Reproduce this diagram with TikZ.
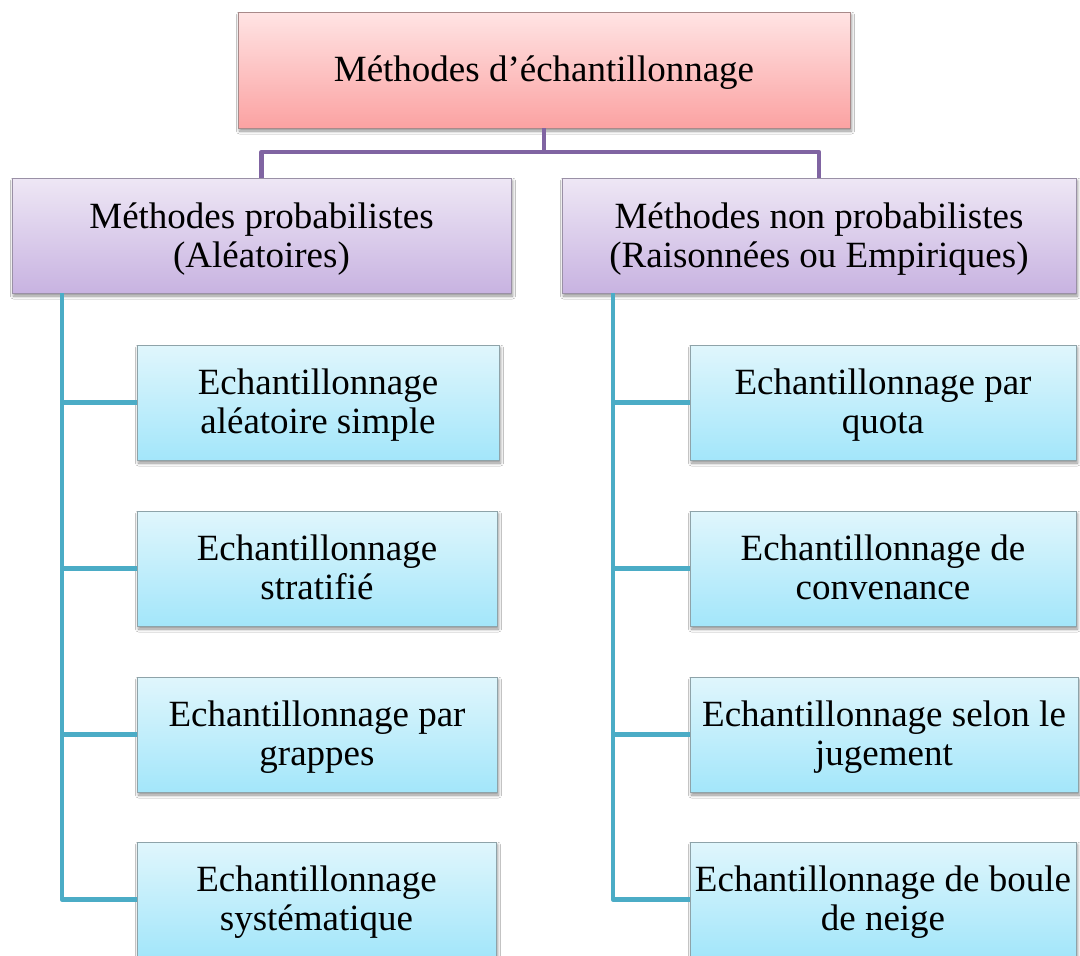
\documentclass[tikz,border=0pt]{standalone}
\usepackage{fontspec}
\setmainfont{Liberation Serif}
\usetikzlibrary{shadows.blur}
\definecolor{pinkTop}{HTML}{FFE4E4}
\definecolor{pinkBot}{HTML}{FBA2A2}
\definecolor{pinkLine}{HTML}{A88A8A}
\definecolor{lavTop}{HTML}{EEE7F5}
\definecolor{lavBot}{HTML}{C8B3E1}
\definecolor{lavLine}{HTML}{9A90A6}
\definecolor{cyanTop}{HTML}{E0F6FC}
\definecolor{cyanBot}{HTML}{A3E6FA}
\definecolor{cyanLine}{HTML}{8EA3A9}
\definecolor{purpleLink}{HTML}{8064A2}
\definecolor{tealLink}{HTML}{4BACC6}
% two centred lines with a fixed first-line height and last-line depth
\newcommand\twolines[3]{\rule{0pt}{#1}#2\\#3\rule[-10pt]{0pt}{0pt}}
\tikzset{
  box/.style={rectangle, inner sep=0pt, align=center, line width=0.8pt,
    font=\fontsize{37}{39}\selectfont,
    blur shadow={shadow xshift=1.5pt, shadow yshift=-3pt, shadow blur steps=6,
      shadow blur radius=3pt, shadow opacity=45}},
  rootbox/.style={box, draw=pinkLine, top color=pinkTop, bottom color=pinkBot},
  groupbox/.style={box, draw=lavLine, top color=lavTop, bottom color=lavBot},
  leafbox/.style={box, draw=cyanLine, top color=cyanTop, bottom color=cyanBot},
  purplelink/.style={draw=purpleLink, line width=4.5pt, line join=round},
  teallink/.style={draw=tealLink, line width=4.5pt, line join=round},
}
\begin{document}
\begin{tikzpicture}[x=1pt, y=-1pt]
  \clip (0,0) rectangle (1080,956);
  \fill[white] (0,0) rectangle (1080,956);

  % root
  \node[rootbox, minimum width=612pt, minimum height=116pt] (root) at (544,70)
    {\rule{0pt}{32pt}Méthodes d’échantillonnage\rule[-10pt]{0pt}{0pt}};

  % two families
  \node[groupbox, minimum width=499pt, minimum height=115pt] (prob) at (261.5,235.5)
    {\twolines{34pt}{Méthodes probabilistes}{(Aléatoires)}};
  \node[groupbox, minimum width=514pt, minimum height=115pt] (nonprob) at (819,235.5)
    {\twolines{34pt}{Méthodes non probabilistes}{(Raisonnées ou Empiriques)}};

  % probabilistic methods
  \node[leafbox, minimum width=362pt, minimum height=115pt] (p1) at (318,402.5)
    {\twolines{33pt}{Echantillonnage}{aléatoire simple}};
  \node[leafbox, minimum width=360pt, minimum height=115pt] (p2) at (317,568.5)
    {\twolines{33pt}{Echantillonnage}{stratifié}};
  \node[leafbox, minimum width=360pt, minimum height=115pt] (p3) at (317,734.5)
    {\twolines{33pt}{Echantillonnage par}{grappes}};
  \node[leafbox, minimum width=359pt, minimum height=115pt] (p4) at (316.5,899.5)
    {\twolines{33pt}{Echantillonnage}{systématique}};

  % non-probabilistic methods
  \node[leafbox, minimum width=386pt, minimum height=115pt] (n1) at (883,402.5)
    {\twolines{33pt}{Echantillonnage par}{quota}};
  \node[leafbox, minimum width=386pt, minimum height=115pt] (n2) at (883,568.5)
    {\twolines{33pt}{Echantillonnage de}{convenance}};
  \node[leafbox, minimum width=388pt, minimum height=115pt] (n3) at (884,734.5)
    {\twolines{33pt}{Echantillonnage selon le}{jugement}};
  \node[leafbox, minimum width=386pt, minimum height=115pt] (n4) at (883,899.5)
    {\twolines{33pt}{Echantillonnage de boule}{de neige}};

  % root to families
  \coordinate (split) at (544,152);
  \draw[purplelink] (root.south) -- (split);
  \draw[purplelink] (split) -| (prob.north);
  \draw[purplelink] (split) -| (nonprob.north);

  % family trunks
  \coordinate (trunkP) at (62,293);
  \coordinate (trunkN) at (613,293);
  \draw[teallink] (trunkP) |- (p4.west);
  \foreach \n in {p1,p2,p3} \draw[teallink] (trunkP |- \n.west) -- (\n.west);
  \draw[teallink] (trunkN) |- (n4.west);
  \foreach \n in {n1,n2,n3} \draw[teallink] (trunkN |- \n.west) -- (\n.west);
\end{tikzpicture}
\end{document}
